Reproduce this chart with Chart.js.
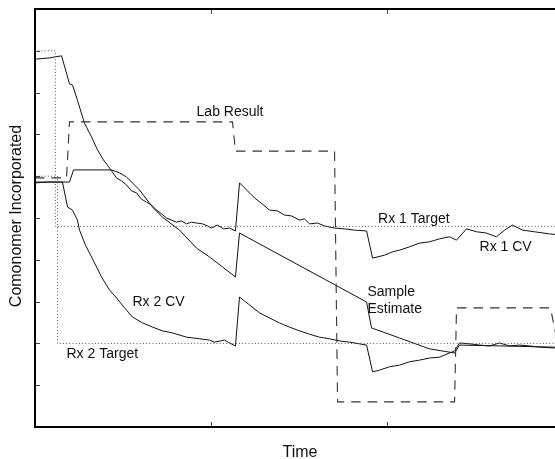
<!DOCTYPE html>
<html>
<head>
<meta charset="utf-8">
<script src="https://cdn.jsdelivr.net/npm/chart.js@4/dist/chart.umd.min.js"></script>
<style>
  html, body { margin: 0; padding: 0; background: #fff; overflow: hidden; }
  #wrap { width: 600px; height: 459px; }
</style>
</head>
<body>
<div id="wrap"><canvas id="trendChart" width="600" height="459"></canvas></div>
<script>
// Reactor comonomer trends against time (arbitrary units, 0..3 on x, 0..10 on y)

const rx1TargetTime = [0, 0.116, 0.116, 3.0];
const rx1TargetValue = [9.0, 9.0, 4.8, 4.8];

const rx2TargetTime = [0, 0.128, 0.128, 3.0];
const rx2TargetValue = [6.0, 6.0, 2.0, 2.0];

const labTime = [0, 0.179, 0.196, 1.122, 1.139, 1.702, 1.719, 2.384, 2.395, 2.929, 2.969, 3.0];
const labValue = [5.96, 5.96, 7.30, 7.30, 6.60, 6.60, 0.60, 0.60, 2.85, 2.85, 2.0, 2.0];

const rx1CvTime = [0, 0.082, 0.151, 0.196, 0.213, 0.241, 0.281, 0.321, 0.355, 0.389, 0.423, 0.463,
  0.491, 0.520, 0.548, 0.577, 0.605, 0.634, 0.662, 0.690, 0.719, 0.747, 0.776, 0.804, 0.832, 0.861,
  0.889, 0.918, 0.952, 0.980, 1.003, 1.037, 1.071, 1.105, 1.139, 1.162, 1.247, 1.293, 1.332, 1.378,
  1.418, 1.457, 1.503, 1.531, 1.560, 1.605, 1.645, 1.702, 1.759, 1.815, 1.884, 1.918, 1.986, 2.031,
  2.071, 2.128, 2.185, 2.241, 2.298, 2.355, 2.395, 2.452, 2.509, 2.565, 2.622, 2.668, 2.713, 2.770,
  2.838, 2.923, 3.0];
const rx1CvValue = [8.80, 8.83, 8.88, 8.21, 8.18, 7.82, 7.27, 6.94, 6.63, 6.39, 6.20, 5.96,
  5.89, 5.79, 5.65, 5.60, 5.45, 5.38, 5.31, 5.19, 5.10, 5.00, 4.95, 4.90, 4.93, 4.86,
  4.90, 4.88, 4.86, 4.81, 4.76, 4.83, 4.74, 4.76, 4.69, 5.84, 5.48, 5.33, 5.19, 5.17,
  5.07, 5.05, 4.95, 4.98, 4.86, 4.88, 4.81, 4.76, 4.74, 4.71, 4.69, 4.04, 4.11, 4.19,
  4.23, 4.31, 4.40, 4.43, 4.50, 4.55, 4.47, 4.74, 4.67, 4.64, 4.55, 4.71, 4.83, 4.71,
  4.67, 4.62, 4.59];

const rx2CvTime = [0, 0.082, 0.156, 0.185, 0.213, 0.241, 0.253, 0.287, 0.321, 0.378, 0.423, 0.463,
  0.509, 0.554, 0.611, 0.668, 0.724, 0.781, 0.861, 0.935, 0.991, 1.020, 1.077, 1.105, 1.139, 1.162,
  1.219, 1.276, 1.332, 1.389, 1.446, 1.503, 1.560, 1.616, 1.673, 1.730, 1.787, 1.884, 1.918, 1.957,
  2.014, 2.071, 2.128, 2.185, 2.241, 2.298, 2.355, 2.384, 2.412, 2.469, 2.526, 2.582, 2.639, 2.696,
  2.753, 2.810, 2.866, 2.952, 3.0];
const rx2CvValue = [5.84, 5.86, 5.86, 5.26, 5.19, 4.95, 4.71, 4.35, 4.07, 3.59, 3.28, 3.09,
  2.85, 2.63, 2.49, 2.39, 2.30, 2.25, 2.15, 2.11, 2.08, 2.03, 2.08, 2.01, 1.94, 3.11,
  2.92, 2.73, 2.61, 2.49, 2.39, 2.30, 2.22, 2.15, 2.11, 2.06, 2.03, 1.96, 1.32, 1.36,
  1.44, 1.48, 1.56, 1.60, 1.65, 1.67, 1.77, 1.82, 2.01, 1.99, 1.96, 1.94, 2.01, 1.94,
  1.96, 1.94, 1.91, 1.89, 1.89];

const sampleTime = [0, 0.196, 0.219, 0.435, 0.480, 0.520, 0.594, 0.668, 0.724, 0.821, 0.918, 0.991,
  1.139, 1.162, 1.884, 1.912, 2.071, 2.241, 2.384, 2.412, 2.639, 2.952, 3.0];
const sampleValue = [5.86, 5.86, 6.15, 6.15, 6.08, 5.98, 5.67, 5.26, 5.02, 4.71, 4.28, 4.07,
  3.59, 4.64, 2.99, 2.37, 2.13, 1.87, 1.77, 1.96, 1.94, 1.91, 1.91];

const xTicks = [0, 1, 2, 3];
const yTicks = [0, 1, 2, 3, 4, 5, 6, 7, 8, 9, 10];

// text placed on the plot, anchored in data units (left edge, baseline)
const curveLabels = [
  { text: 'Lab Result', t: 0.918, v: 7.44 },
  { text: 'Rx 1 Target', t: 1.949, v: 4.88 },
  { text: 'Rx 1 CV', t: 2.526, v: 4.21 },
  { text: 'Sample', t: 1.889, v: 3.13 },
  { text: 'Estimate', t: 1.889, v: 2.73 },
  { text: 'Rx 2 CV', t: 0.554, v: 2.89 },
  { text: 'Rx 2 Target', t: 0.179, v: 1.65 }
];

const FONT = "'Liberation Sans', Arial, Helvetica, sans-serif";

const pairs = (xs, ys) => xs.map((x, i) => ({ x: x, y: ys[i] }));

const dotted = { borderColor: '#555', borderWidth: 1, borderDash: [1, 2.2] };
const dashed = { borderColor: '#333', borderWidth: 1.1, borderDash: [9.5, 7] };
const solid = { borderColor: '#111', borderWidth: 1 };

const framePlugin = {
  id: 'frame',
  afterDraw(chart) {
    const ctx = chart.ctx;
    const a = chart.chartArea;
    const xs = chart.scales.x, ys = chart.scales.y;
    ctx.save();

    // inward ticks on all four sides
    ctx.strokeStyle = '#444';
    ctx.lineWidth = 1;
    ctx.beginPath();
    xTicks.forEach(t => {
      const px = Math.round(xs.getPixelForValue(t)) + 0.5;
      ctx.moveTo(px, a.bottom); ctx.lineTo(px, a.bottom - 5);
      ctx.moveTo(px, a.top); ctx.lineTo(px, a.top + 5);
    });
    yTicks.forEach(v => {
      const py = Math.round(ys.getPixelForValue(v)) + 0.5;
      ctx.moveTo(a.left, py); ctx.lineTo(a.left + 5, py);
      ctx.moveTo(a.right, py); ctx.lineTo(a.right - 5, py);
    });
    ctx.stroke();

    // axes box
    ctx.strokeStyle = '#000';
    ctx.lineWidth = 2;
    ctx.strokeRect(a.left, a.top, a.right - a.left, a.bottom - a.top);

    // curve annotations
    ctx.fillStyle = '#111';
    ctx.font = '14px ' + FONT;
    ctx.textBaseline = 'alphabetic';
    ctx.textAlign = 'left';
    curveLabels.forEach(l => {
      ctx.fillText(l.text, xs.getPixelForValue(l.t), ys.getPixelForValue(l.v));
    });

    // axis titles
    ctx.font = '16px ' + FONT;
    ctx.textAlign = 'center';
    ctx.textBaseline = 'middle';
    ctx.fillText('Time', 300, 453);
    ctx.save();
    ctx.translate(17, 216);
    ctx.rotate(-Math.PI / 2);
    ctx.fillText('Comonomer Incorporated', 0, 0);
    ctx.restore();

    ctx.restore();
  }
};

new Chart(document.getElementById('trendChart'), {
  type: 'line',
  data: {
    datasets: [
      { label: 'Rx 1 Target', data: pairs(rx1TargetTime, rx1TargetValue), ...dotted },
      { label: 'Rx 2 Target', data: pairs(rx2TargetTime, rx2TargetValue), ...dotted },
      { label: 'Lab Result', data: pairs(labTime, labValue), ...dashed },
      { label: 'Sample Estimate', data: pairs(sampleTime, sampleValue), ...solid },
      { label: 'Rx 2 CV', data: pairs(rx2CvTime, rx2CvValue), ...solid },
      { label: 'Rx 1 CV', data: pairs(rx1CvTime, rx1CvValue), ...solid }
    ]
  },
  options: {
    responsive: false,
    animation: false,
    events: [],
    layout: { padding: { left: 35, top: 9, right: 37, bottom: 32 } },
    elements: {
      point: { radius: 0 },
      line: { tension: 0, fill: false }
    },
    scales: {
      x: { type: 'linear', min: 0, max: 3, display: false },
      y: { type: 'linear', min: 0, max: 10, display: false }
    },
    plugins: {
      legend: { display: false },
      tooltip: { enabled: false }
    }
  },
  plugins: [framePlugin]
});
</script>
</body>
</html>
